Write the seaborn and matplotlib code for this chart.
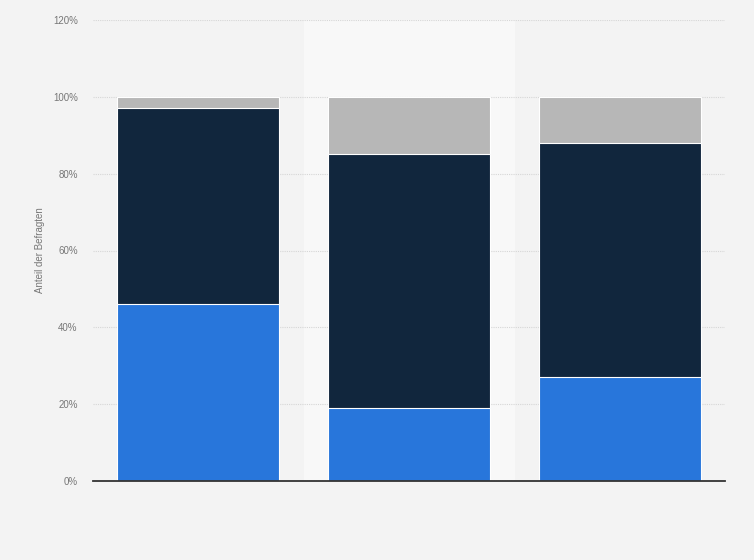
import matplotlib
matplotlib.use("Agg")
import matplotlib.pyplot as plt
import seaborn as sns
import pandas as pd
import numpy as np
from matplotlib.ticker import FuncFormatter

categories = ["A", "B", "C"]
blue_vals = [46, 19, 27]
dark_vals = [51, 66, 61]
gray_vals = [3, 15, 12]
y_ticks = [0, 20, 40, 60, 80, 100, 120]

sns.set_theme(style="white")
plt.rcParams["font.family"] = ["Liberation Sans", "DejaVu Sans"]

df = pd.DataFrame({
    "cat": categories,
    "blue": blue_vals,
    "dark": np.array(blue_vals) + np.array(dark_vals),
    "gray": np.array(blue_vals) + np.array(dark_vals) + np.array(gray_vals),
})

fig = plt.figure(figsize=(7.54, 5.6), dpi=100, facecolor="#f3f3f3")
ax = fig.add_axes([93/754, 79/560, 632/754, 461/560])
ax.set_facecolor("#f3f3f3")

ax.axvspan(0.5, 1.5, color="#f8f8f8", zorder=0)

for col, colr in [("gray", "#b7b7b7"), ("dark", "#11263d"), ("blue", "#2876db")]:
    sns.barplot(data=df, x="cat", y=col, color=colr, width=0.77, ax=ax,
                edgecolor="white", linewidth=0.8, saturation=1, zorder=2)

ax.set_xlim(-0.5, 2.5)
ax.set_ylim(0, 120)
ax.set_yticks(y_ticks)
ax.yaxis.set_major_formatter(FuncFormatter(lambda v, p: f"{int(v)}%"))
ax.tick_params(axis="y", labelsize=7, colors="#777777", length=0, pad=11)
ax.set_xticks([])
ax.set_xlabel("")
ax.set_ylabel("Anteil der Befragten", fontsize=7, color="#777777", labelpad=6)
ax.yaxis.grid(True, linestyle=(0, (1, 1)), color="#d6d6d6", linewidth=0.8)
ax.set_axisbelow(True)
for s in ["top", "right", "left"]:
    ax.spines[s].set_visible(False)
ax.spines["bottom"].set_color("#333333")
ax.spines["bottom"].set_linewidth(1.3)
ax.spines["bottom"].set_zorder(5)

fig.savefig("out.png", dpi=100, facecolor=fig.get_facecolor())
